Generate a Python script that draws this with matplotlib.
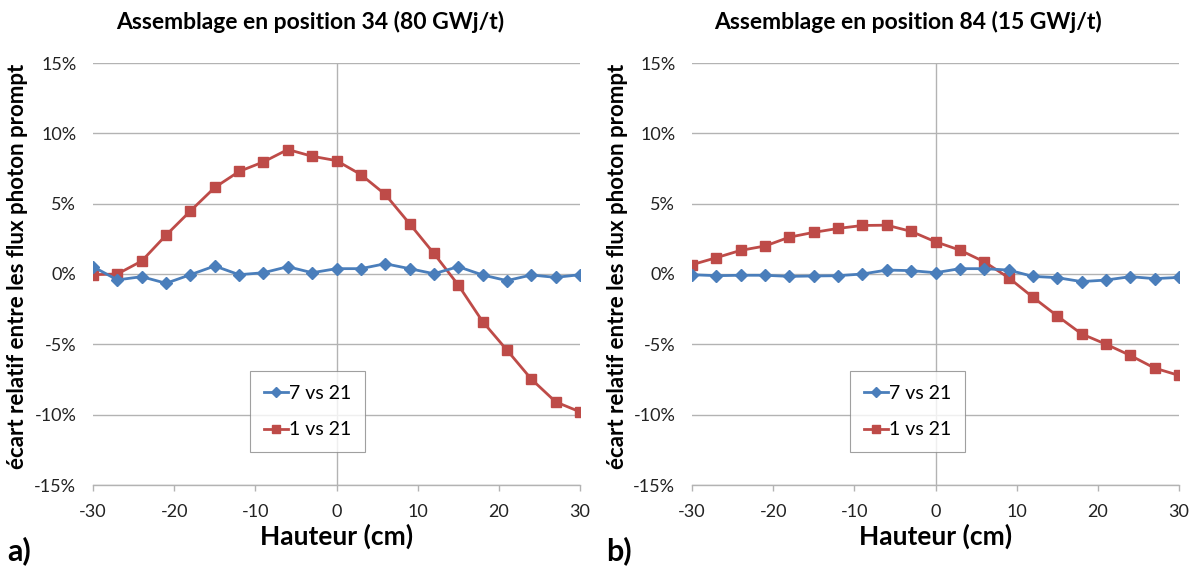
import matplotlib
matplotlib.use("Agg")
import matplotlib.pyplot as plt
from matplotlib.ticker import FuncFormatter, MultipleLocator

plt.rcParams['font.family'] = ['Lato', 'DejaVu Sans']
plt.rcParams['axes.unicode_minus'] = False

hauteur = [-30, -27, -24, -21, -18, -15, -12, -9, -6, -3, 0, 3, 6, 9, 12, 15, 18, 21, 24, 27, 30]

# Assemblage en position 34 (80 GWj/t) -- values in %
a_7vs21 = [0.52, -0.42, -0.19, -0.66, -0.05, 0.57, -0.05, 0.09, 0.52, 0.09, 0.38, 0.38, 0.73, 0.38, 0.02, 0.52, -0.07, -0.47, -0.07, -0.24, -0.05]
a_1vs21 = [-0.05, 0.0, 0.92, 2.76, 4.48, 6.15, 7.29, 7.97, 8.85, 8.37, 8.06, 7.07, 5.66, 3.58, 1.46, -0.78, -3.38, -5.41, -7.47, -9.09, -9.8]

# Assemblage en position 84 (15 GWj/t) -- values in %
b_7vs21 = [-0.05, -0.12, -0.09, -0.09, -0.17, -0.14, -0.12, 0.0, 0.28, 0.24, 0.09, 0.38, 0.38, 0.28, -0.17, -0.26, -0.54, -0.43, -0.19, -0.33, -0.24]
b_1vs21 = [0.66, 1.16, 1.68, 1.99, 2.62, 2.96, 3.24, 3.45, 3.47, 3.03, 2.29, 1.7, 0.87, -0.26, -1.65, -2.98, -4.26, -4.99, -5.79, -6.69, -7.21]

titles = ["Assemblage en position 34 (80 GWj/t)", "Assemblage en position 84 (15 GWj/t)"]
panel_labels = ["a)", "b)"]
series_names = ["7 vs 21", "1 vs 21"]
ylabel = "écart relatif entre les flux photon prompt"
xlabel = "Hauteur (cm)"

blue = "#4a7ebb"
red = "#be4b48"
grid_c = "#b3b3b3"

fig = plt.figure(figsize=(11.92, 5.66), dpi=100)

ax_rects = [[93/1192, 1-485/566, (580-93)/1192, (485-63)/566],
            [692/1192, 1-485/566, (1179-692)/1192, (485-63)/566]]
legend_pos = [(250/1192, 1-452/566), (850/1192, 1-452/566)]
panel_x = [7/1192, 606/1192]
ylabel_x = [18/1192, 617/1192]
title_x = [310/1192, 908/1192]

data = [(a_7vs21, a_1vs21), (b_7vs21, b_1vs21)]

for i in range(2):
    ax = fig.add_axes(ax_rects[i])
    s1, s2 = data[i]
    ax.plot(hauteur, s1, color=blue, lw=2.0, marker='D', ms=6.5, label=series_names[0], zorder=4)
    ax.plot(hauteur, s2, color=red, lw=2.0, marker='s', ms=7.5, label=series_names[1], zorder=3)
    ax.set_xlim(-30, 30)
    ax.set_ylim(-15, 15)
    ax.yaxis.set_major_locator(MultipleLocator(5))
    ax.xaxis.set_major_locator(MultipleLocator(10))
    ax.yaxis.set_major_formatter(FuncFormatter(lambda v, p: f"{int(round(v))}%"))
    ax.grid(axis='y', color=grid_c, lw=1.0, zorder=0)
    ax.axvline(0, color=grid_c, lw=1.0, zorder=1)
    for sp in ['left', 'right', 'top']:
        ax.spines[sp].set_visible(False)
    ax.spines['bottom'].set_color(grid_c)
    ax.spines['bottom'].set_linewidth(1.0)
    ax.tick_params(axis='y', length=0, pad=12, labelsize=13, colors='#222222')
    ax.tick_params(axis='x', length=4.5, width=1.0, color=grid_c, pad=9, labelsize=13, labelcolor='#222222')
    fig.text(title_x[i], 1-22/566, titles[i], fontsize=16.5, fontweight='bold',
             ha='center', va='center')
    ax.set_xlabel(xlabel, fontsize=19, fontweight='bold', labelpad=3)
    fig.text(ylabel_x[i], 0.53, ylabel, rotation=90, fontsize=16, fontweight='bold',
             ha='center', va='center')
    fig.text(panel_x[i], 1-551/566, panel_labels[i], fontsize=22, fontweight='bold',
             ha='left', va='center')
    leg = ax.legend(loc='lower left', bbox_to_anchor=legend_pos[i], bbox_transform=fig.transFigure,
                    fontsize=14, frameon=True, fancybox=False, edgecolor='#888888',
                    handlelength=1.25, handletextpad=0.05, labelspacing=1.0,
                    borderpad=0.7, borderaxespad=0, markerscale=0.75)
    leg.get_frame().set_linewidth(0.8)

fig.savefig("out.png", dpi=100, facecolor='white')
